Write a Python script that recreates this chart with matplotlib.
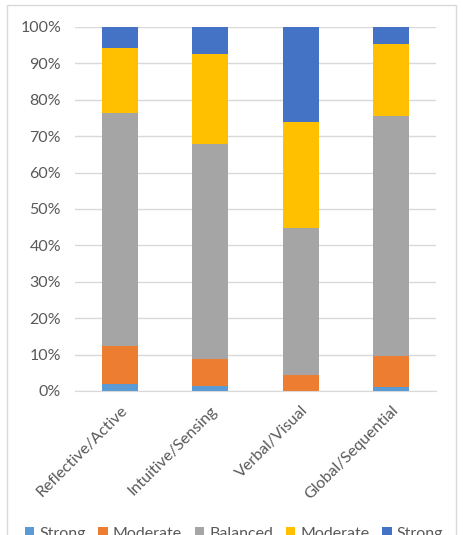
import matplotlib.pyplot as plt
from matplotlib.patches import Rectangle
from matplotlib.ticker import PercentFormatter

plt.rcParams["font.family"] = ["Lato", "DejaVu Sans"]

categories = ["Reflective/Active", "Intuitive/Sensing", "Verbal/Visual", "Global/Sequential"]
series_names = ["Strong", "Moderate", "Balanced", "Moderate", "Strong"]
strong_a = [1.9, 1.4, 0.0, 1.0]
moderate_a = [10.5, 7.3, 4.4, 8.7]
balanced = [63.9, 59.2, 40.4, 65.9]
moderate_b = [17.8, 24.7, 29.2, 19.8]
strong_b = [5.9, 7.4, 26.0, 4.6]
colors = ["#5B9BD5", "#ED7D31", "#A5A5A5", "#FFC000", "#4472C4"]

values = [strong_a, moderate_a, balanced, moderate_b, strong_b]

fig = plt.figure(figsize=(4.63, 5.35), dpi=100)
ax = fig.add_axes([75 / 463, 1 - 391 / 535, (436 - 75) / 463, (391 - 27) / 535])

x = range(len(categories))
bottom = [0.0] * len(categories)
for name, vals, color in zip(series_names, values, colors):
    ax.bar(x, vals, 0.4, bottom=bottom, color=color, label=name, zorder=3)
    bottom = [b + v for b, v in zip(bottom, vals)]

ax.set_xlim(-0.5, len(categories) - 0.5)
ax.set_ylim(0, 100)
ax.set_yticks(range(0, 101, 10))
ax.yaxis.set_major_formatter(PercentFormatter(decimals=0))
ax.grid(axis="y", color="#D9D9D9", linewidth=1, zorder=0)
for side in ["top", "right", "left"]:
    ax.spines[side].set_visible(False)
ax.spines["bottom"].set_color("#D9D9D9")
ax.tick_params(length=0, colors="#595959", labelsize=11.5)
ax.tick_params(axis="y", pad=10)
ax.set_xticks(list(x))
ax.set_xticklabels(categories, rotation=45, ha="right", rotation_mode="anchor")
ax.tick_params(axis="x", pad=9)

fig.legend(loc="center", bbox_to_anchor=(0.505, 1 - 534 / 535), ncol=5, frameon=False,
           fontsize=11.5, labelcolor="#595959", handlelength=0.6, handleheight=0.6,
           columnspacing=0.8, handletextpad=0.3)

fig.patches.append(Rectangle((7 / 463, -0.05), (456 - 7) / 463, 1 - 5 / 535 + 0.05,
                             transform=fig.transFigure, fill=False,
                             edgecolor="#D9D9D9", linewidth=1))

fig.savefig("out.png", dpi=100)
